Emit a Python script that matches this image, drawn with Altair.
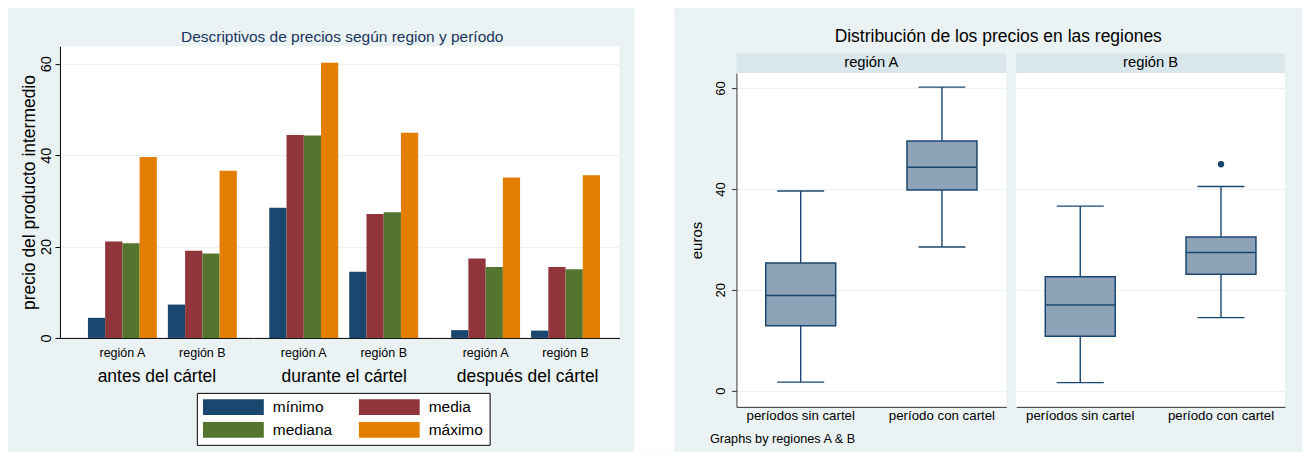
import altair as alt
import pandas as pd

FONT = "Liberation Sans"

# ---------------- data: left panel (bar chart) ----------------
periods = ["antes del cártel", "durante el cártel", "después del cártel"]
regions = ["región A", "región B"]
stats = ["mínimo", "media", "mediana", "máximo"]
# order: (antes A, antes B, durante A, durante B, después A, después B)
minimo = [4.4, 7.3, 28.5, 14.5, 1.7, 1.6]
media = [21.1, 19.1, 44.4, 27.1, 17.4, 15.5]
mediana = [20.7, 18.5, 44.3, 27.5, 15.5, 15.0]
maximo = [39.6, 36.6, 60.2, 44.9, 35.1, 35.6]
bar_colors = ["#1A476F", "#90353B", "#55752F", "#E37E00"]

# ---------------- data: right panel (box plots) ----------------
box_periods = ["períodos sin cartel", "período con cartel"]
box_region = ["región A", "región A", "región B", "región B"]
box_period = ["períodos sin cartel", "período con cartel", "períodos sin cartel", "período con cartel"]
box_low = [1.7, 28.5, 1.6, 14.5]
box_q1 = [12.9, 39.8, 10.8, 23.1]
box_med = [18.9, 44.3, 17.0, 27.4]
box_q3 = [25.3, 49.5, 22.6, 30.5]
box_high = [39.6, 60.2, 36.6, 40.5]
out_region = ["región B"]
out_period = ["período con cartel"]
out_value = [44.9]

# ---------------- tables ----------------
rows = []
series = [minimo, media, mediana, maximo]
for pi, p in enumerate(periods):
    for ri, r in enumerate(regions):
        k = pi * 2 + ri
        for s, arr in zip(stats, series):
            rows.append({"period": p, "region": r, "stat": s, "value": arr[k]})
bar_df = pd.DataFrame(rows)

box_df = pd.DataFrame({"region": box_region, "period": box_period, "low": box_low,
                       "q1": box_q1, "med": box_med, "q3": box_q3, "high": box_high})
out_df = pd.DataFrame({"region": out_region, "period": out_period, "value": out_value})

GRID = "#EAF2F3"
ticks_vals = [0, 20, 40, 60]

legend = alt.Legend(
    title=None, orient="none", legendX=137, legendY=347, columns=2, direction="horizontal",
    symbolType="M-1,-0.262L1,-0.262L1,0.262L-1,0.262Z", symbolSize=3721,
    symbolStrokeWidth=0, symbolOpacity=1, clipHeight=16,
    labelFontSize=15.5, labelOffset=9, labelColor="black", labelLimit=200,
    columnPadding=26, rowPadding=6, padding=6,
    strokeColor="black", fillColor="white", cornerRadius=0,
)

# (width, paddingOuter, align) for each period panel
panel_geo = [(193, 0.275, 0.636), (182, 0.20625, 0.5), (185, 0.225, 0.458)]


def bar_panel(i):
    w, po, al = panel_geo[i]
    first = i == 0
    if first:
        yax = alt.Axis(title="precio del producto intermedio", values=ticks_vals, labelAngle=270,
                       tickSize=5, labelPadding=1, titlePadding=0, labelFontSize=14.5,
                       titleFontSize=17.5, titleFontWeight="normal", domainColor="black",
                       tickColor="black", labelColor="black", titleColor="black",
                       grid=True, gridColor=GRID)
    else:
        yax = alt.Axis(title=None, values=ticks_vals, labels=False, ticks=False, domain=False,
                       grid=True, gridColor=GRID)
    sub = bar_df[bar_df["period"] == periods[i]]
    return alt.Chart(sub).mark_bar().encode(
        x=alt.X("region:N", sort=regions,
                scale=alt.Scale(domain=regions, paddingInner=0.1375, paddingOuter=po, align=al),
                axis=alt.Axis(title=periods[i], labelAngle=0, ticks=False, tickSize=0,
                              labelPadding=9, labelFontSize=12.5, titleFontSize=17.5, titlePadding=8,
                              titleFontWeight="normal", domainColor="black", labelColor="black",
                              titleColor="black", grid=False)),
        xOffset=alt.XOffset("stat:N", sort=stats,
                            scale=alt.Scale(domain=stats, paddingInner=0, paddingOuter=0)),
        y=alt.Y("value:Q", scale=alt.Scale(domain=[0, 63.85], nice=False, zero=False), axis=yax),
        color=alt.Color("stat:N", sort=stats, scale=alt.Scale(domain=stats, range=bar_colors),
                        legend=legend),
    ).properties(width=w, height=292)


left = alt.hconcat(
    bar_panel(0), bar_panel(1), bar_panel(2), spacing=0, bounds="flush",
    title=alt.TitleParams(text=[" ", "Descriptivos de precios según region y período"],
                          fontSize=15.5, lineHeight=16, color="#1A3560", fontWeight="normal",
                          anchor="middle", dx=22, offset=1),
).resolve_scale(xOffset="independent")

# ---------------- right panel ----------------
BOX_FILL = "#8EA2B8"
NAVY = "#1A476F"
ysc = alt.Scale(domain=[-3.2, 62.97], nice=False, zero=False)
plot_w = [270, 269]


def blank(j, h):
    return alt.Chart(pd.DataFrame({"v": [0]})).mark_point(opacity=0, size=1).encode(
        x=alt.value(0), y=alt.value(0)
    ).properties(width=plot_w[j], height=h,
                 view=alt.ViewBackground(fill="transparent", stroke=None))


def strip(j):
    w = plot_w[j]
    return alt.Chart(pd.DataFrame({"r": [regions[j]]})).mark_text(
        fontSize=14.8, color="black", baseline="middle", align="center"
    ).encode(text="r:N", x=alt.value(w / 2), y=alt.value(10)).properties(
        width=w, height=20, view=alt.ViewBackground(fill="#D9E6EB", stroke=None))


def box_plot(j):
    first = j == 0
    sub = box_df[box_df["region"] == regions[j]]
    if first:
        yax = alt.Axis(title="euros", values=ticks_vals, labelAngle=270, tickSize=5,
                       labelPadding=4, titlePadding=10, labelFontSize=13, titleFontSize=15,
                       titleFontWeight="normal", domainColor="#333333", tickColor="#333333",
                       labelColor="black", titleColor="black", grid=True, gridColor=GRID)
        xax = alt.Axis(title="Graphs by regiones A & B", labelAngle=0, ticks=False, tickSize=0,
                       labelPadding=2, labelFontSize=13.3, labelColor="black",
                       domainColor="#333333", titleFontSize=12.7, titleFontWeight="normal",
                       titleColor="black", titleX=-27, titleY=32, titleAlign="left",
                       titleBaseline="middle", grid=False)
    else:
        yax = alt.Axis(title=None, values=ticks_vals, labels=False, ticks=False, domain=False,
                       grid=True, gridColor=GRID)
        xax = alt.Axis(title=None, labelAngle=0, ticks=False, tickSize=0, labelPadding=2,
                       labelFontSize=13.3, labelColor="black", domainColor="#333333", grid=False)
    xenc = alt.X("period:N", sort=box_periods,
                 scale=alt.Scale(domain=box_periods, paddingInner=0.5, paddingOuter=0.205),
                 axis=xax)

    def Y(f):
        return alt.Y(f, type="quantitative", scale=ysc, axis=yax)

    base = alt.Chart(sub).encode(x=xenc)
    whisk = base.mark_rule(color=NAVY, strokeWidth=1.4).encode(y=Y("low"), y2="high:Q")
    box = base.mark_bar(size=70, fill=BOX_FILL, stroke=NAVY, strokeWidth=1.5).encode(
        y=Y("q1"), y2="q3:Q")
    med = base.mark_tick(size=70, thickness=1.5, color=NAVY, opacity=1).encode(y=Y("med"))
    cap_lo = base.mark_tick(size=47, thickness=1.4, color=NAVY, opacity=1).encode(y=Y("low"))
    cap_hi = base.mark_tick(size=47, thickness=1.4, color=NAVY, opacity=1).encode(y=Y("high"))
    layers = [whisk, box, med, cap_lo, cap_hi]
    osub = out_df[out_df["region"] == regions[j]]
    if len(osub):
        layers.append(alt.Chart(osub).mark_point(filled=True, size=40, color=NAVY, opacity=1)
                      .encode(x=xenc, y=Y("value")))
    return alt.layer(*layers).properties(width=plot_w[j], height=334)


colA = alt.vconcat(blank(0, 7), strip(0), box_plot(0), spacing=0, bounds="flush")
colB = alt.vconcat(blank(1, 7), strip(1), box_plot(1), spacing=0, bounds="flush")
right = alt.hconcat(
    colA, colB, spacing=9,
    title=alt.TitleParams(text=[" ", "Distribución de los precios en las regiones"],
                          fontSize=17.5, lineHeight=16, color="black", fontWeight="normal",
                          anchor="middle", dx=11, offset=0),
)

# white gap between the two graph regions (decorative background band)
spacer = alt.Chart(pd.DataFrame({"v": [0]})).mark_rect(color="white").encode(
    x=alt.value(0), x2=alt.value(40), y=alt.value(-38), y2=alt.value(406)
).properties(width=40, height=406, view=alt.ViewBackground(fill="transparent", stroke=None))

chart = alt.concat(left, spacer, right, columns=3, spacing=15, align="none").properties(
    background="#EAF2F3",
    padding={"left": 12, "top": 0, "right": 17, "bottom": 0},
).configure(font=FONT).configure_view(stroke=None, fill="white")

chart.save("out.html", embed_options={"renderer": "svg", "actions": False})
